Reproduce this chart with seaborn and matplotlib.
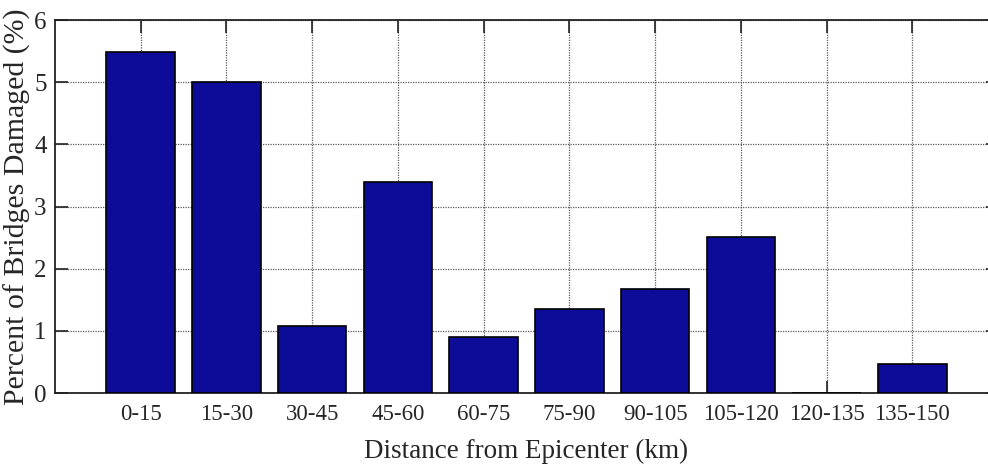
import matplotlib
matplotlib.use("Agg")
import matplotlib.pyplot as plt
import seaborn as sns
import pandas as pd

# Bridge damage by distance band
distance_bins = ["0-15", "15-30", "30-45", "45-60", "60-75",
                 "75-90", "90-105", "105-120", "120-135", "135-150"]
percent_damaged = [5.48, 5.0, 1.07, 3.4, 0.9, 1.35, 1.68, 2.51, 0.0, 0.47]
y_ticks = [0, 1, 2, 3, 4, 5, 6]

sns.set_style("white")
plt.rcParams['font.family'] = ['Liberation Serif', 'DejaVu Serif']

df = pd.DataFrame({'Distance': distance_bins, 'Percent': percent_damaged})

fig = plt.figure(figsize=(9.88, 4.69), dpi=100)
# axes run past the right edge, as in the reference image
ax = fig.add_axes([55 / 988, 1 - 393 / 469, 943 / 988, 373 / 469])

sns.barplot(data=df, x='Distance', y='Percent', ax=ax, order=distance_bins,
            color='#0c0c98', saturation=1, width=0.8,
            edgecolor='black', linewidth=1.2, zorder=3)

ax.set_xlim(-1, len(distance_bins))
ax.set_ylim(0, 6)
ax.set_yticks(y_ticks)
ax.set_yticklabels([str(t) for t in y_ticks], fontsize=18)
ax.tick_params(axis='x', labelsize=16.5)

ax.grid(True, linestyle=(0, (1, 1)), color='#333333', linewidth=0.9, alpha=0.8, zorder=0)
ax.set_axisbelow(True)
ax.tick_params(direction='in', length=9, width=1.2, top=True, right=True,
               bottom=True, left=True, color='#222222', pad=8)
ax.tick_params(axis='y', pad=6)

for side in ['top', 'left', 'bottom', 'right']:
    ax.spines[side].set_color('#222222')
    ax.spines[side].set_linewidth(1.3)

ax.set_xlabel('Distance from Epicenter (km)', fontsize=19.5, labelpad=10)
ax.set_ylabel('Percent of Bridges Damaged (%)', fontsize=21.5, labelpad=2)

plt.savefig('out.png', dpi=100)
plt.close()
